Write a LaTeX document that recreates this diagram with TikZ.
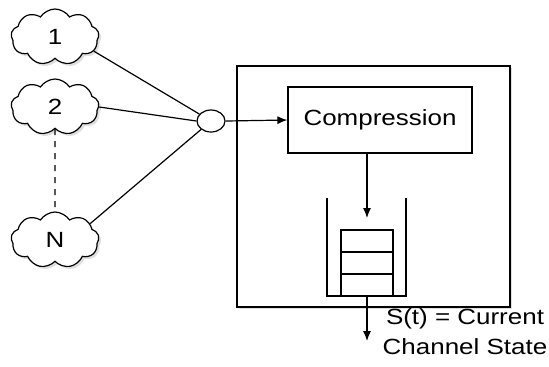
\documentclass[tikz,border=0pt]{standalone}
\usepackage{fontspec}
\setmainfont[FakeStretch=1.18]{Liberation Sans}
\usetikzlibrary{shapes.geometric,shapes.symbols,shadows,arrows.meta}

\tikzset{
	src/.style={cloud, cloud puffs=9, cloud puff arc=115, aspect=1.7, draw, fill=white,
		minimum width=44pt, minimum height=28pt, inner sep=0pt, font=\fontsize{11}{12}\selectfont,
		drop shadow={opacity=0.25, shadow xshift=1.2pt, shadow yshift=-1.2pt}},
	cell/.style={draw, minimum width=26pt, minimum height=11pt, inner sep=0pt},
	flow/.style={-{Latex[length=5pt,width=4pt]}},
}

\begin{document}
\begin{tikzpicture}[x=0.5pt, y=-0.5pt, line width=0.6pt, font=\fontsize{11}{15}\selectfont]
	\useasboundingbox (0,0) rectangle (549,366);

	% sources
	\node[src] (c1) at (55,37) {1};
	\node[src] (c2) at (55,107) {2};
	\node[src] (cN) at (55,240) {N};
	\draw [dashed] (c2.south) -- (cN.north);

	\node[ellipse, draw, minimum width=14pt, minimum height=11pt, inner sep=0pt] (mux) at (211,121) {};
	\draw (c1.-20) -- (mux);
	\draw (c2.east) -- (mux.west);
	\draw (cN.25) -- (mux);

	% system
	\node[draw, fill=white, minimum width=136.5pt, minimum height=120.5pt,
		drop shadow={opacity=0.25, shadow xshift=1.2pt, shadow yshift=-1.2pt}] (sys) at (373.5,186.5) {};
	\node[draw, minimum width=92pt, minimum height=33pt] (comp) at (380,120) {Compression};
	\draw [flow] (mux.east) -- (comp.west);

	% queue
	\draw (327,198) -- (327,296) -- (406,296) -- (406,198);
	\foreach \i/\y in {1/241,2/263,3/285}
		\node[cell] (q\i) at (367,\y) {};
	\coordinate (qin) at (367,218);
	\draw [flow] (comp.south -| qin) -- (qin);

	\coordinate (qout) at (367,341);
	\draw [flow] (367,296) -- (qout);
	\node[align=center] (state) at (465,332) {S(t) = Current\\Channel State};
\end{tikzpicture}
\end{document}
